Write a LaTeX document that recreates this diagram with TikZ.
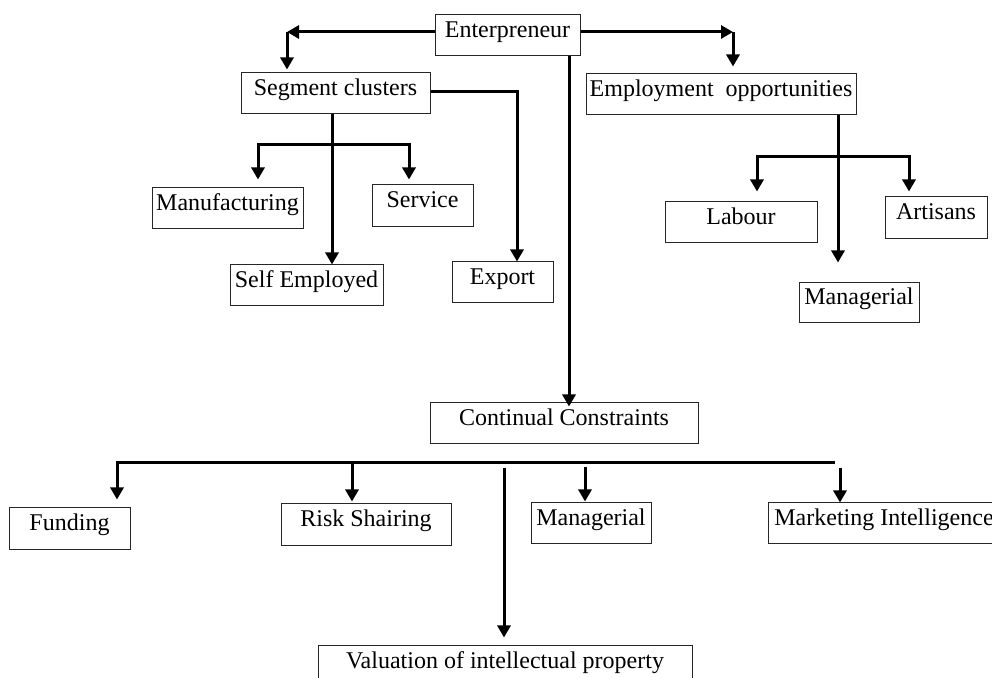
\documentclass[tikz,border=0pt]{standalone}
\usepackage{fontspec}
\setmainfont{Liberation Serif}
\usepackage{tikz}
\usetikzlibrary{arrows.meta, positioning, calc}

\begin{document}
\begin{tikzpicture}[x=0.5pt, y=-0.5pt,
        every node/.style={
            draw=black!85,
            line width=0.5pt,
            inner sep=0pt,
            minimum height=20.5pt,
            text height=8.5pt,
            text depth=6.5pt,
            font=\fontsize{12}{14}\selectfont,
            align=center},
        link/.style={line width=1.5pt},
        >={Triangle[length=6pt, width=6.5pt]}]

        \useasboundingbox (0,0) rectangle (992,678);

        % top level
        \node[minimum width=72.5pt] (ent) at (507.5,35.5) {Enterpreneur};
        \node[minimum width=94.5pt] (seg) at (335.5,93.5) {Segment clusters};
        \node[minimum width=135pt] (emp) at (721,94.5) {Employment~ opportunities};

        % segment clusters
        \node[minimum width=75.5pt] (manu) at (227.5,208.5) {Manufacturing};
        \node[minimum width=50.5pt, minimum height=21pt] (serv) at (422.5,206) {Service};
        \node[minimum width=76.5pt] (self) at (306.5,285.5) {Self Employed};
        \node[minimum width=50.5pt] (exp) at (502.5,282.5) {Export};

        % employment opportunities
        \node[minimum width=76pt] (lab) at (741,222.5) {Labour};
        \node[minimum width=51pt, minimum height=21pt] (art) at (936,218) {Artisans};
        \node[minimum width=60pt, minimum height=20pt] (mgrA) at (859,303) {Managerial};

        % constraints
        \node[minimum width=134pt] (cont) at (564,423.5) {Continual Constraints};
        \node[minimum width=60.5pt, minimum height=21pt] (fund) at (69.5,529) {Funding};
        \node[minimum width=85pt, minimum height=21pt] (risk) at (366,525) {Risk Shairing};
        \node[minimum width=60pt] (mgrB) at (591,523.5) {Managerial};
        \node[minimum width=116pt] (mkt) at (884,523.5) {Marketing Intelligence};
        \node[minimum width=187pt] (val) at (505,666.5) {Valuation of intellectual property};

        \coordinate (entL) at (287,32);
        \coordinate (entR) at (733,32);
        \coordinate (entD) at (569,56);
        \coordinate (segR) at (517,92);
        \coordinate (segD) at (332,145);
        \coordinate (segBL) at (258,145);
        \coordinate (segBR) at (409,145);
        \coordinate (empD) at (838,157);
        \coordinate (empBL) at (757,157);
        \coordinate (empBR) at (909,157);
        \coordinate (barL) at (117,463);
        \coordinate (barR) at (835,463);
        \coordinate (riskT) at (352,463);
        \coordinate (mgrT) at (585,467);
        \coordinate (mktT) at (840,468);
        \coordinate (valT) at (504,468);

        \draw[link,->] (ent.west |- entL) -- (entL);
        \draw[link,->,shorten >=1.5pt] (entL) -- (entL |- seg.north);
        \draw[link,->] (ent.east |- entR) -- (entR);
        \draw[link,->,shorten >=3.5pt] (entR) -- (entR |- emp.north);
        \draw[link,->,shorten >=-2pt] (entD |- ent.south) -- (entD |- cont.north);

        \draw[link,->] (seg.east |- segR) -- (segR) -- (segR |- exp.north);
        \draw[link,->] (segD |- seg.south) -- (segD |- self.north);
        \draw[link,<->,shorten <=4pt,shorten >=2.5pt] (segBL |- manu.north) -- (segBL) -- (segBR) -- (segBR |- serv.north);

        \draw[link,->,shorten >=10pt] (empD |- emp.south) -- (empD |- mgrA.north);
        \draw[link,<->,shorten <=5pt,shorten >=2.5pt] (empBL |- lab.north) -- (empBL) -- (empBR) -- (empBR |- art.north);

        \draw[link,<-,shorten <=4pt] (barL |- fund.north) -- (barL) -- (barR);
        \draw[link,->,shorten >=1pt] (riskT) -- (riskT |- risk.north);
        \draw[link,->,shorten >=0.5pt] (mgrT) -- (mgrT |- mgrB.north);
        \draw[link,->] (mktT) -- (mktT |- mkt.north);
        \draw[link,->,shorten >=4pt] (valT) -- (valT |- val.north);
    \end{tikzpicture}
\end{document}
